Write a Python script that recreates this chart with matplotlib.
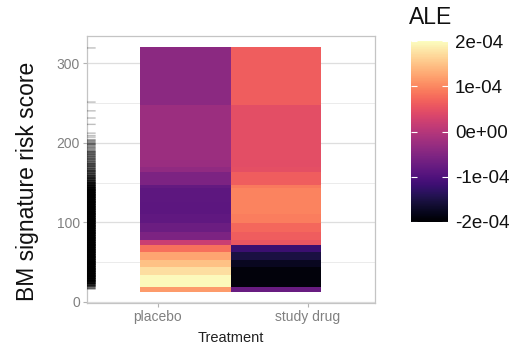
import numpy as np
import matplotlib
matplotlib.use("Agg")
import matplotlib.pyplot as plt
from matplotlib.colors import Normalize

plt.rcParams['font.family'] = ['Liberation Sans', 'DejaVu Sans']

# data
treatments = ['placebo', 'study drug']
bin_edges = [12.6, 18.8, 33.9, 43.9, 52.7, 62.8, 71.5, 77.8, 88.0, 99.2,
             110.0, 125.0, 143.1, 146.9, 163.2, 169.4, 178.2, 247.3, 320.0]
# ALE values in units of 1e-04, one per bin, bottom to top
ale_placebo = [1.16, 1.96, 1.72, 1.48, 1.24, 0.80, 0.20, -0.56, -0.72,
               -0.84, -0.88, -0.86, -0.80, -0.56, -0.36, -0.28, -0.26, -0.42]
ale_study = [-0.76, -1.92, -1.92, -1.76, -1.52, -1.20, 0.56, 0.64, 0.72,
             0.92, 0.96, 0.96, 0.88, 0.64, 0.48, 0.44, 0.46, 0.64]

# rug of observed risk scores (position, number of observations)
rug_pos = [319, 251, 240, 231, 223, 212, 209, 207, 204, 201, 198, 196, 193,
           190, 187, 184, 181, 178, 175, 172, 169, 166, 163, 160, 157, 154,
           151, 148, 145, 142, 139, 136, 133, 130, 127, 124, 121, 118, 115,
           112, 109, 106, 103, 100, 97, 94, 91, 88, 85, 82, 79, 76, 73, 70,
           67, 64, 61, 58, 55, 52, 49, 46, 43, 40, 37, 34, 31, 28, 25, 22,
           19, 16]
rug_n = [1, 1, 1, 1, 1, 1, 1, 1, 1, 2, 1, 2, 1, 2, 2, 2, 2, 2, 2, 3, 2,
         3, 3, 3, 4, 4, 5, 6, 8, 10, 16, 16, 16, 16, 16, 16, 16, 16, 16,
         16, 16, 16, 16, 16, 16, 16, 16, 16, 16, 16, 16, 16, 16, 16, 16, 16,
         16, 16, 16, 16, 16, 16, 16, 16, 16, 16, 14, 12, 8, 5, 3, 1]

cb_ticks = [-2e-4, -1e-4, 0, 1e-4, 2e-4]
cb_labels = ['-2e-04', '-1e-04', '0e+00', '1e-04', '2e-04']

W, H = 511, 346
fig = plt.figure(figsize=(W / 100, H / 100), dpi=100)
ax = fig.add_axes([87 / W, 43 / H, 288 / W, 267 / H])

norm = Normalize(vmin=-2e-4, vmax=2e-4)
C = np.column_stack([ale_placebo, ale_study]) * 1e-4
tile_x = [0.88, 1.49, 2.09]
mesh = ax.pcolormesh(tile_x, bin_edges, C, cmap='magma', norm=norm,
                     shading='flat', zorder=2)

# rug on the left side
xmin, xmax = 0.527, 2.447
rug_len = 0.03 * (xmax - xmin)
for p, n in zip(rug_pos, rug_n):
    a = 1 - (1 - 0.25) ** n
    lw = 1.0 if n == 1 else 3.2
    ax.hlines(p, xmin, xmin + rug_len, color='black', alpha=a, lw=lw,
              zorder=3, snap=False)

ax.set_xlim(xmin, xmax)
ax.set_ylim(-1.3, 334)
ax.set_xticks([1, 2])
ax.set_xticklabels(treatments)
ax.set_yticks([0, 100, 200, 300])
ax.set_yticks([50, 150, 250], minor=True)
ax.grid(True, axis='y', which='major', color='#DEDEDE', lw=0.9, zorder=0)
ax.grid(True, axis='y', which='minor', color='#E8E8E8', lw=0.6, zorder=0)
ax.set_axisbelow(True)
for s in ax.spines.values():
    s.set_color('#C4C4C4')
    s.set_linewidth(0.9)
ax.tick_params(axis='both', which='major', colors='#B3B3B3', length=3,
               width=0.8, labelsize=10, labelcolor='#808080', pad=2)
ax.tick_params(axis='y', which='minor', length=0)

fig.text(28 / W, 1 - 181 / H, 'BM signature risk score', rotation=90,
         ha='center', va='center', fontsize=16.5, color='#111111')
fig.text(231 / W, 1 - 338 / H, 'Treatment', ha='center', va='center',
         fontsize=10.5, color='#222222')

# colour bar
cax = fig.add_axes([411 / W, 1 - 222 / H, 37 / W, 181 / H])
cb = fig.colorbar(mesh, cax=cax)
cb.outline.set_visible(False)
cb.set_ticks(cb_ticks)
cb.set_ticklabels(cb_labels)
cax.tick_params(direction='in', color='white', length=4, width=0.8,
                left=True, right=True, labelsize=13.5, labelcolor='#111111',
                pad=5)
fig.text(409 / W, 1 - 17 / H, 'ALE', ha='left', va='center', fontsize=16.5,
         color='#111111')

fig.savefig('out.png', dpi=100)
